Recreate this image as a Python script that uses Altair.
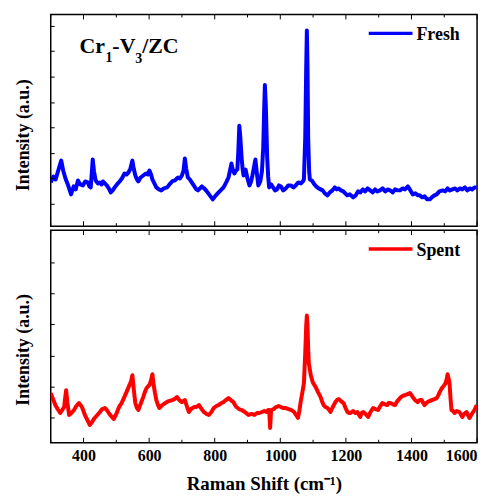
import altair as alt
import pandas as pd

# ---------------- data ----------------
fresh_shift = [300,308,315,322,332,338,345,352,362,370,376,383,390,398,405,413,418,422,428,432,437,444,450,455,459,465,471,477,483,489,495,502,510,517,525,531,537,543,549,553,558,563,567,574,582,590,596,601,606,610,616,622,630,637,645,655,662,670,678,688,694,700,705,709,713,718,724,730,738,744,749,755,761,768,776,785,794,801,809,818,827,835,842,846,851,855,860,865,869,872,875,878,882,885,888,891,894,900,906,911,915,919,924,928,933,939,944,948,951,953,956,960,963,966,972,978,984,990,996,1002,1009,1017,1024,1032,1040,1047,1055,1063,1069,1072,1076,1079,1081,1083,1085,1088,1090,1096,1102,1109,1117,1123,1129,1136,1144,1151,1159,1166,1172,1177,1185,1192,1198,1204,1212,1222,1230,1237,1244,1252,1259,1266,1274,1282,1289,1296,1304,1312,1320,1327,1335,1343,1350,1358,1365,1373,1380,1389,1395,1404,1412,1420,1425,1433,1440,1448,1456,1462,1470,1477,1485,1495,1503,1510,1517,1525,1533,1540,1548,1555,1563,1570,1578,1585,1592,1599]
fresh_int = [44,50,47,55,66,56,48,42,32,40,37,46,42,41,45,44,40,39,67,55,46,43,44,42,45,43,41,38,34,36,39,42,45,48,53,52,54,58,66,58,51,47,45,49,51,53,52,56,52,47,43,39,37,36,38,39,42,45,46,49,48,51,56,68,58,49,47,44,40,37,36,38,40,38,35,31,27,30,33,36,39,44,49,55,63,57,53,56,57,75,101,90,69,58,51,54,57,48,41,45,51,58,67,55,41,45,55,79,120,142,120,69,50,39,42,39,36,37,41,40,36,38,41,41,39,41,44,43,45,47,89,160,197,160,89,55,47,46,43,40,38,37,36,33,31,34,36,39,37,38,36,35,33,31,32,29,31,35,34,37,35,38,36,34,37,35,36,38,35,37,36,34,37,36,36,38,37,40,37,32,33,31,31,29,30,27,27,29,31,32,35,36,35,38,36,37,38,36,38,37,39,36,38,37,39,39]

spent_shift = [300,307,314,321,329,335,341,344,347,351,356,363,371,378,386,391,395,400,404,410,419,426,434,442,450,457,465,471,477,484,492,500,507,512,516,523,531,536,540,545,549,552,555,558,563,567,574,582,587,592,597,601,606,610,614,618,622,627,631,640,649,660,670,678,685,692,700,705,709,715,721,728,737,744,752,760,767,775,782,790,797,805,812,820,827,834,842,849,857,862,866,874,882,892,903,912,921,929,936,944,951,958,963,966,969,972,980,987,995,1002,1010,1017,1025,1034,1042,1048,1054,1058,1063,1068,1072,1076,1079,1081,1083,1085,1087,1093,1099,1104,1108,1115,1123,1128,1132,1138,1144,1149,1153,1160,1168,1173,1178,1185,1193,1199,1205,1210,1214,1222,1229,1235,1240,1244,1248,1253,1260,1268,1275,1283,1290,1298,1305,1311,1318,1326,1330,1335,1342,1350,1357,1365,1372,1380,1388,1395,1400,1404,1411,1419,1425,1431,1436,1440,1445,1449,1455,1462,1470,1477,1482,1486,1491,1495,1500,1504,1508,1510,1513,1516,1519,1522,1527,1531,1538,1546,1550,1555,1560,1568,1572,1577,1582,1586,1592,1599]
spent_int = [50,44,38,34,30,33,36,45,53,40,28,30,33,37,40,38,36,32,28,24,18,21,25,28,31,34,35,33,30,27,24,29,35,38,40,45,51,55,58,62,68,58,48,40,35,33,39,46,51,55,57,58,63,69,58,50,43,38,35,38,40,42,43,44,46,43,41,42,43,37,31,34,36,36,38,34,31,29,28,31,35,37,38,40,41,43,45,43,41,38,36,34,33,31,28,29,28,30,30,31,32,31,33,33,15,33,34,36,37,36,35,35,34,33,31,28,25,32,43,52,60,90,118,128,118,95,80,68,61,58,56,51,46,41,38,36,35,33,31,36,41,43,44,42,40,35,31,30,30,32,30,31,28,26,30,31,29,26,31,35,34,33,37,40,39,38,40,40,39,38,42,45,47,48,49,50,48,46,43,41,43,43,40,38,40,41,42,43,44,45,48,51,54,56,58,60,65,69,65,60,45,33,32,30,32,31,29,26,29,31,28,25,28,30,33,38]

x_major = [400, 600, 800, 1000, 1200, 1400, 1600]
x_minor = [300, 500, 700, 900, 1100, 1300, 1500]
top_yticks = [22, 48, 73, 99, 124, 150, 176, 201]
bot_yticks = [25, 56, 87, 119, 150, 181]

FONT = "Liberation Serif"
W = 429
H_TOP = 213
H_BOT = 214

xscale = alt.Scale(domain=[300, 1600], nice=False, zero=False)


def tick_layers(h, yticks, ydom):
    yscale = alt.Scale(domain=ydom, nice=False, zero=False)
    layers = []
    for vals, ln in ((x_major, 5), (x_minor, 3)):
        df = pd.DataFrame({"v": vals})
        base = alt.Chart(df).mark_rule(color="black", strokeWidth=1)
        layers.append(base.encode(x=alt.X("v:Q", scale=xscale), y=alt.value(h), y2=alt.value(h - ln)))
        layers.append(base.encode(x=alt.X("v:Q", scale=xscale), y=alt.value(0), y2=alt.value(ln)))
    ydf = pd.DataFrame({"v": yticks})
    layers.append(alt.Chart(ydf).mark_rule(color="black", strokeWidth=1).encode(
        y=alt.Y("v:Q", scale=yscale), x=alt.value(0), x2=alt.value(4)))
    return layers


def panel(shift, inten, color, ydom, yticks, label, h, xaxis, title_y):
    df = pd.DataFrame({"shift": shift, "intensity": inten})
    yscale = alt.Scale(domain=ydom, nice=False, zero=False)
    line = alt.Chart(df).mark_line(color=color, strokeWidth=4, strokeJoin="round", clip=True).encode(
        x=alt.X("shift:Q", scale=xscale, axis=xaxis),
        y=alt.Y("intensity:Q", scale=yscale,
                axis=alt.Axis(title="Intensity (a.u.)", labels=False, ticks=False, domain=False,
                              grid=False, titleFont=FONT, titleFontSize=18, titleFontWeight="bold",
                              titleColor="black", titleX=-18, titleY=title_y,
                              titleBaseline="bottom", titleAngle=270)),
    )
    leg_line = alt.Chart(pd.DataFrame({"a": [0]})).mark_rule(color=color, strokeWidth=3.5).encode(
        x=alt.value(320), x2=alt.value(364), y=alt.value(19))
    leg_text = alt.Chart(pd.DataFrame({"t": [label]})).mark_text(
        font=FONT, fontSize=18, fontWeight="bold", color="black", align="left",
        baseline="alphabetic").encode(text="t:N", x=alt.value(368), y=alt.value(26))
    layers = [line] + tick_layers(h, yticks, ydom) + [leg_line, leg_text]
    return layers


top_layers = panel(fresh_shift, fresh_int, "#0000FF", [0, 213], top_yticks, "Fresh", H_TOP,
                   None, 121)

# sample label Cr1-V3/ZC
parts = [("Cr", 29, 39, 22), ("1", 55, 48, 14), ("-V", 62, 39, 22), ("3", 85, 49, 14), ("/ZC", 92, 39, 22)]
for txt, px, py, fs in parts:
    top_layers.append(alt.Chart(pd.DataFrame({"t": [txt]})).mark_text(
        font=FONT, fontSize=fs, fontWeight="bold", color="black", align="left",
        baseline="alphabetic").encode(text="t:N", x=alt.value(px), y=alt.value(py)))

top = alt.layer(*top_layers).properties(width=W, height=H_TOP)

bot_xaxis = alt.Axis(title="Raman Shift (cm⁻¹)", values=x_major, labels=True, ticks=False,
                     domain=False, grid=False, labelFont=FONT, labelFontSize=16,
                     labelFontWeight="bold", labelColor="black", labelPadding=5,
                     titleFont=FONT, titleFontSize=19, titleFontWeight="bold",
                     titleColor="black", titlePadding=11, format="d")
bot_layers = panel(spent_shift, spent_int, "#FF0000", [0, 214], bot_yticks, "Spent", H_BOT,
                   bot_xaxis, 120)
bottom = alt.layer(*bot_layers).properties(width=W, height=H_BOT)

chart = alt.vconcat(top, bottom, spacing=0).properties(
    padding={"left": 6, "top": 3, "right": 8, "bottom": 0}
).configure_view(stroke="black", strokeWidth=1.5).configure_axis(grid=False)

chart.save("out.html", embed_options={"renderer": "svg", "actions": False})
